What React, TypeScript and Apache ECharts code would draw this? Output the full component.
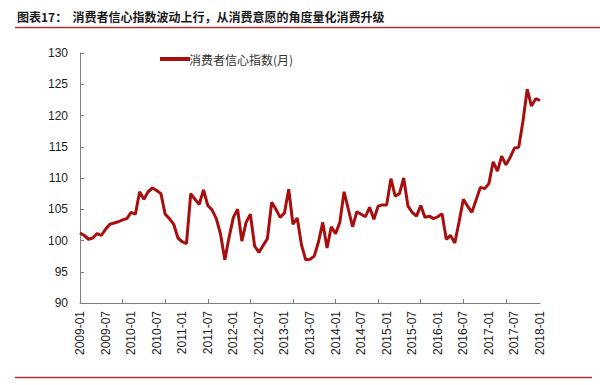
import React, { useEffect, useRef } from "react";
import * as echarts from "echarts";

const TITLE = "图表17：  消费者信心指数波动上行，从消费意愿的角度量化消费升级";
const SERIES_NAME = "消费者信心指数(月)";

const startYear = 2009;
const months: string[] = [];
for (let y = startYear; y <= 2018; y++) {
  for (let m = 1; m <= 12; m++) {
    if (y === 2018 && m > 1) break;
    months.push(`${y}-${m < 10 ? "0" + m : m}`);
  }
}

const values: number[] = [
  // 2009
  101.2, 100.8, 100.2, 100.4, 101.1, 100.8, 101.8, 102.6, 102.8, 103.0, 103.3, 103.5,
  // 2010
  104.5, 104.2, 107.8, 106.6, 107.8, 108.4, 108.0, 107.5, 104.2, 103.5, 102.6, 100.4,
  // 2011
  99.8, 99.5, 107.5, 106.6, 105.8, 108.1, 105.6, 104.9, 103.5, 101.0, 96.9, 100.5,
  // 2012
  103.7, 105.0, 99.9, 102.9, 104.2, 99.1, 98.1, 99.2, 100.3, 106.1, 105.0, 103.7,
  // 2013
  104.4, 108.2, 102.6, 103.6, 99.3, 96.9, 97.0, 97.5, 99.8, 102.9, 98.8, 102.2,
  // 2014
  101.1, 102.9, 107.8, 105.0, 102.2, 104.6, 104.2, 103.8, 105.3, 103.4, 105.5, 105.7,
  // 2015
  105.7, 109.9, 107.1, 107.5, 110.0, 105.5, 104.5, 103.9, 105.6, 103.7, 103.9, 103.5,
  // 2016
  103.8, 104.3, 100.2, 100.8, 99.6, 103.0, 106.6, 105.5, 104.5, 106.5, 108.5, 108.3,
  // 2017
  109.1, 112.6, 111.1, 113.5, 112.1, 113.3, 114.8, 114.9, 119.1, 124.2, 121.5, 122.7,
  // 2018
  122.4,
];

const yMin = 90;
const yMax = 130;
const yStep = 5;

export default function App() {
  const ref = useRef<HTMLDivElement>(null);
  useEffect(() => {
    if (!ref.current) return;
    const chart = echarts.init(ref.current, undefined, { renderer: "svg" });
    const lineColor = "#a8342b";
    chart.setOption({
      animation: false,
      backgroundColor: "#ffffff",
      textStyle: { fontFamily: "Arial, 'Liberation Sans', 'Noto Sans CJK SC', sans-serif" },
      graphic: [
        {
          type: "text",
          left: 17,
          top: 10,
          style: {
            text: TITLE,
            fontSize: 12,
            fontWeight: "bold",
            fill: "#1a1a1a",
            fontFamily: "'Noto Sans CJK SC', sans-serif",
          },
        },
        {
          type: "line",
          shape: { x1: 15, y1: 27.5, x2: 600, y2: 27.5 },
          style: { stroke: lineColor, lineWidth: 1.5 },
        },
        {
          type: "line",
          shape: { x1: 15, y1: 377.5, x2: 592, y2: 377.5 },
          style: { stroke: lineColor, lineWidth: 1.5 },
        },
      ],
      legend: {
        left: 155,
        top: 48,
        icon: "rect",
        itemWidth: 30,
        itemHeight: 4,
        itemGap: 10,
        textStyle: {
          fontSize: 12,
          color: "#333",
          padding: [0, 0, 0, -6],
          fontFamily: "'Noto Sans CJK SC', sans-serif",
        },
        data: [SERIES_NAME],
      },
      grid: { left: 80, right: 60, top: 53, bottom: 82, containLabel: false },
      xAxis: {
        type: "category",
        data: months,
        boundaryGap: false,
        axisLine: { lineStyle: { color: "#7f7f7f", width: 1 } },
        axisTick: { inside: true, length: 4, interval: 9, lineStyle: { color: "#7f7f7f" } },
        axisLabel: {
          interval: 5,
          rotate: 90,
          fontSize: 12,
          color: "#222",
          margin: 8,
        },
        splitLine: { show: false },
      },
      yAxis: {
        type: "value",
        min: yMin,
        max: yMax,
        interval: yStep,
        axisLine: { show: true, lineStyle: { color: "#7f7f7f", width: 1 } },
        axisTick: { show: true, inside: true, length: 4, lineStyle: { color: "#7f7f7f" } },
        axisLabel: { fontSize: 12, color: "#222", margin: 12 },
        splitLine: { show: false },
      },
      series: [
        {
          name: SERIES_NAME,
          type: "line",
          data: values,
          showSymbol: false,
          symbol: "none",
          color: "#a80e0e",
          lineStyle: { color: "#a80e0e", width: 3 },
        },
      ],
    });
    return () => chart.dispose();
  }, []);
  return (
    <div
      ref={ref}
      style={{ position: "absolute", left: 0, top: 0, width: 600, height: 385 }}
    />
  );
}
